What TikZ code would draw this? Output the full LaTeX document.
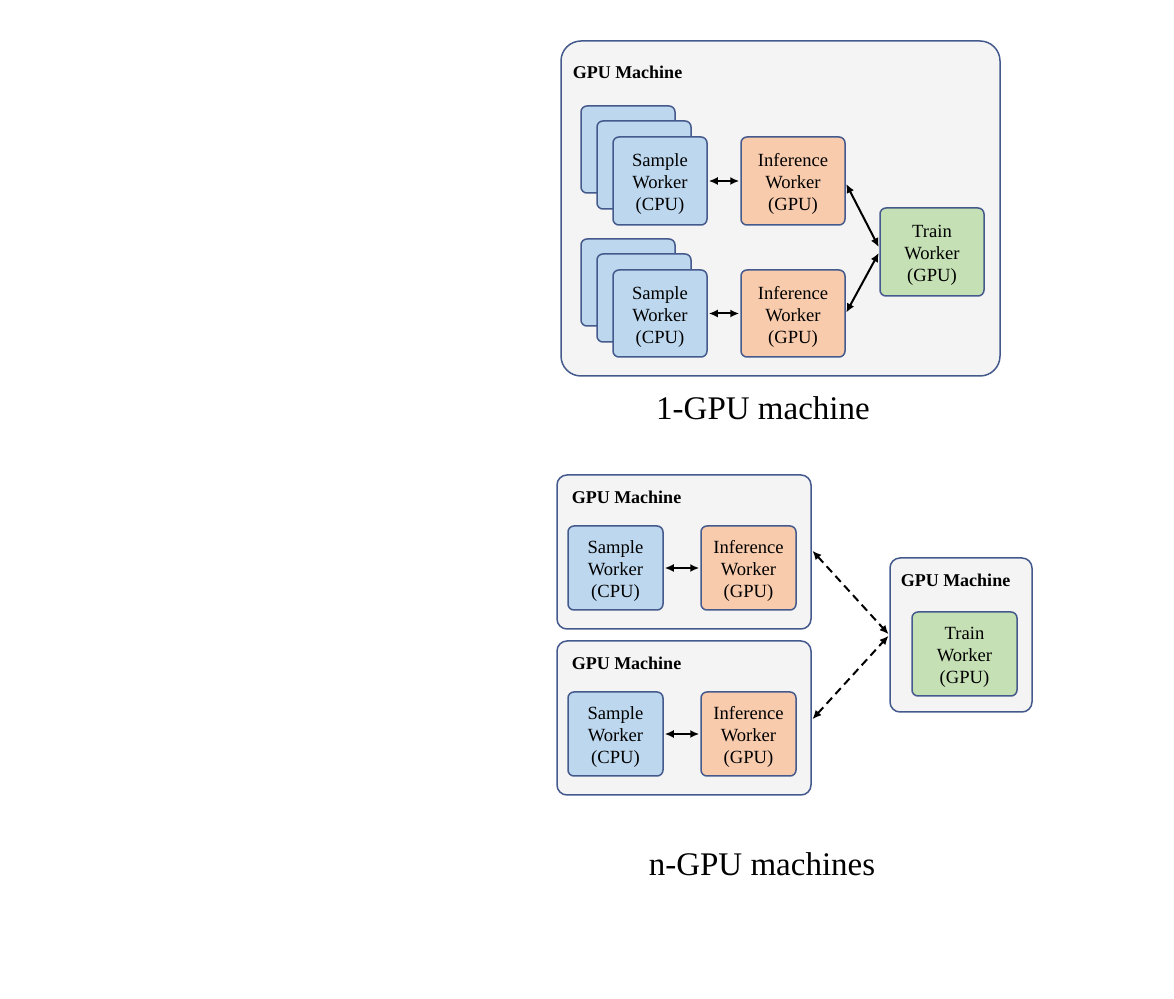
\documentclass[tikz,border=0pt]{standalone}
\usepackage{fontspec}
\setmainfont{Liberation Serif}
\usetikzlibrary{arrows.meta,positioning}
\definecolor{edgeblue}{HTML}{44598C}
\definecolor{machinegray}{HTML}{F4F4F4}
\definecolor{sampleblue}{HTML}{BDD7EE}
\definecolor{inferorange}{HTML}{F8CBAD}
\definecolor{traingreen}{HTML}{C5E0B4}
\begin{document}
\begin{tikzpicture}[x=0.5pt, y=-0.5pt, line width=0.75pt,
  worker node/.style={draw=edgeblue,rounded corners=3pt,align=center,inner sep=0pt,text depth=0pt,text height=30pt,font=\fontsize{9.3}{11}\selectfont},
  sample node/.style={worker node,fill=sampleblue},
  infer node/.style={worker node,fill=inferorange},
  train node/.style={worker node,fill=traingreen},
  machine box/.style={draw=edgeblue,fill=machinegray,rounded corners=5pt,inner sep=0pt},
  machine label/.style={anchor=west,inner sep=0pt,font=\fontsize{9}{11}\selectfont\bfseries},
  caption/.style={font=\fontsize{16.5}{20}\selectfont},
  link/.style={{Latex[length=4.5pt,width=4pt]}-{Latex[length=4.5pt,width=4pt]},line width=1pt,shorten >=0.5pt,shorten <=0.5pt}]%
\useasboundingbox (0,0) rectangle (1174,999);
% 1-GPU machine
\begin{scope}
\node[machine box,rounded corners=10pt,minimum width=219.5pt,minimum height=167.5pt] (m1) at (780.5,208.5) {};
\node[machine label] (m1l) at (572,72) {GPU Machine};
\node[sample node,minimum width=47pt,minimum height=43.5pt] (s1c) at (628,149.5) {};
\node[sample node,minimum width=47pt,minimum height=44pt] (s1b) at (644,165) {};
\node[sample node,minimum width=47pt,minimum height=44pt] (s1) at (660,181) {Sample\\Worker\\(CPU)};
\node[sample node,minimum width=47pt,minimum height=43.5pt] (s2c) at (628,282.5) {};
\node[sample node,minimum width=47pt,minimum height=44pt] (s2b) at (644,298) {};
\node[sample node,minimum width=47pt,minimum height=43.5pt] (s2) at (660,313.5) {Sample\\Worker\\(CPU)};
\node[infer node,minimum width=52pt,minimum height=44pt] (i1) at (793,181) {Inference\\Worker\\(GPU)};
\node[infer node,minimum width=52pt,minimum height=43.5pt] (i2) at (793,313.5) {Inference\\Worker\\(GPU)};
\node[train node,minimum width=52pt,minimum height=44pt] (t1) at (932,252) {Train\\Worker\\(GPU)};
\node[caption] (c1) at (763,408) {1-GPU machine};
\end{scope}
\begin{scope}
\draw[link] (s1) -- (i1);
\draw[link] (s2) -- (i2);
\draw[link] ([yshift=-1pt]i1.east) -- ([yshift=2pt]t1.west);
\draw[link] ([yshift=0pt]i2.east) -- ([yshift=0pt]t1.west);
\end{scope}
% n-GPU machines
\begin{scope}
\node[machine box,minimum width=127pt,minimum height=77pt] (ma) at (684,552) {};
\node[machine label] (mal) at (571,497) {GPU Machine};
\node[sample node,minimum width=47.5pt,minimum height=42pt] (sa) at (615.5,568) {Sample\\Worker\\(CPU)};
\node[infer node,minimum width=47.5pt,minimum height=42pt] (ia) at (748.5,568) {Inference\\Worker\\(GPU)};
\node[machine box,minimum width=127pt,minimum height=77pt] (mb) at (684,718) {};
\node[machine label] (mbl) at (571,663) {GPU Machine};
\node[sample node,minimum width=47.5pt,minimum height=42pt] (sb) at (615.5,734) {Sample\\Worker\\(CPU)};
\node[infer node,minimum width=47.5pt,minimum height=42pt] (ib) at (748.5,734) {Inference\\Worker\\(GPU)};
\node[machine box,minimum width=71pt,minimum height=77pt] (mc) at (961,635) {};
\node[machine label] (mcl) at (900,580) {GPU Machine};
\node[train node,minimum width=52.5pt,minimum height=42pt] (tc) at (964.5,654) {Train\\Worker\\(GPU)};
\node[caption] (c2) at (762,864) {n-GPU machines};
\end{scope}
\begin{scope}
\draw[link] (sa) -- (ia);
\draw[link] (sb) -- (ib);
\draw[link,dash pattern=on 4pt off 2.5pt] ([yshift=1pt]ma.east) -- (mc.west);
\draw[link,dash pattern=on 4pt off 2.5pt] ([yshift=-1pt]mb.east) -- (mc.west);
\end{scope}
\end{tikzpicture}
\end{document}
